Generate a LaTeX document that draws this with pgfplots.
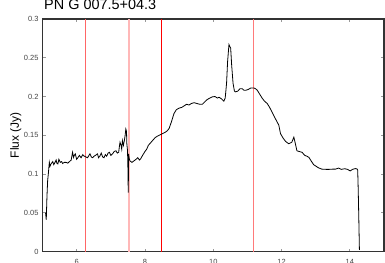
\documentclass[border=0pt]{standalone}
\usepackage{fontspec}
\setmainfont{Liberation Sans}
\usepackage{pgfplots}
\pgfplotsset{compat=1.18}
\definecolor{axgray}{HTML}{333333}
\definecolor{tickgray}{HTML}{999999}
\definecolor{lab}{HTML}{444444}
\begin{document}
\begin{tikzpicture}
\begin{axis}[
  at={(0,0)}, anchor=south west,
  scale only axis, width=341.5bp, height=232.5bp,
  xmin=5, xmax=15, ymin=0, ymax=0.3,
  xtick={6,8,10,12,14},
  ytick={0,0.05,0.1,0.15,0.2,0.25,0.3},
  yticklabels={0,0.05,0.1,0.15,0.2,0.25,0.3},
  tick align=inside,
  major tick length=3bp,
  tick style={tickgray, line width=0.8bp},
  axis line style={axgray, line width=1.5bp},
  /pgf/number format/assume math mode=true,
  ticklabel style={font=\fontsize{7.5}{8}\selectfont, text=lab},
  xticklabel style={yshift=-4.5bp},
  yticklabel style={xshift=-0.5bp},
  ylabel={Flux (Jy)},
  ylabel style={font=\fontsize{12}{12}\selectfont, at={(axis description cs:0,0.5)}, anchor=south, yshift=21bp, inner sep=0pt},
  title={PN G 007.5+04.3},
  title style={at={(axis description cs:0,1)}, anchor=base west, yshift=3.5bp, xshift=1.5bp, inner sep=0pt, font=\fontsize{14.5}{15}\selectfont},
  clip=true,
]
\addplot[red!60, line width=1.2bp] coordinates {(6.25,0) (6.25,0.3)};
\addplot[red!28, line width=2bp] coordinates {(7.52,0) (7.52,0.3)};
\addplot[red, line width=1.5bp] coordinates {(8.48,0) (8.48,0.3)};
\addplot[red!52, line width=1.2bp] coordinates {(11.18,0) (11.18,0.3)};
\addplot[black, line width=0.8bp] coordinates {
(5.09,0.050) (5.11,0.041) (5.13,0.070) (5.15,0.091) (5.17,0.100) (5.20,0.115) (5.22,0.110) (5.25,0.113) (5.30,0.116)
(5.33,0.112) (5.35,0.1136) (5.40,0.118) (5.42,0.114) (5.45,0.113) (5.48,0.119) (5.52,0.115) (5.56,0.116) (5.59,0.1136)
(5.64,0.115) (5.69,0.115) (5.74,0.114) (5.79,0.116) (5.84,0.118) (5.88,0.128) (5.91,0.1215) (5.93,0.124) (5.96,0.126)
(6.00,0.119) (6.03,0.1207) (6.08,0.124) (6.13,0.121) (6.18,0.125) (6.22,0.123) (6.26,0.1223) (6.32,0.121)
(6.36,0.124) (6.39,0.126) (6.43,0.122) (6.47,0.121) (6.51,0.123) (6.55,0.124) (6.61,0.126) (6.64,0.121)
(6.68,0.123) (6.72,0.127) (6.76,0.122) (6.80,0.121) (6.84,0.125) (6.88,0.123) (6.92,0.127) (6.96,0.128)
(7.00,0.124) (7.05,0.126) (7.10,0.129) (7.15,0.130) (7.19,0.127) (7.23,0.128) (7.25,0.135) (7.27,0.141)
(7.30,0.137) (7.32,0.132) (7.34,0.143) (7.37,0.137) (7.40,0.144) (7.42,0.150) (7.44,0.158) (7.46,0.155)
(7.47,0.139) (7.49,0.130) (7.505,0.100) (7.51,0.076) (7.515,0.095) (7.52,0.126) (7.54,0.120) (7.56,0.117)
(7.62,0.115) (7.68,0.117) (7.74,0.119) (7.79,0.121) (7.84,0.118) (7.88,0.120) (7.93,0.124) (8.00,0.129)
(8.05,0.132) (8.10,0.137) (8.16,0.140) (8.22,0.143) (8.30,0.147) (8.37,0.149) (8.42,0.150) (8.51,0.152)
(8.60,0.154) (8.66,0.156) (8.71,0.159) (8.78,0.168) (8.85,0.178) (8.92,0.183) (9.00,0.185) (9.08,0.186)
(9.15,0.188) (9.22,0.190) (9.29,0.189) (9.36,0.191) (9.44,0.192) (9.52,0.191) (9.60,0.190) (9.68,0.190)
(9.75,0.193) (9.82,0.196) (9.90,0.198) (9.97,0.1995) (10.05,0.200) (10.12,0.198) (10.17,0.199) (10.24,0.197)
(10.31,0.194) (10.35,0.198) (10.39,0.217) (10.42,0.245) (10.46,0.267) (10.49,0.264) (10.51,0.2625)
(10.54,0.240) (10.58,0.217) (10.62,0.207) (10.65,0.206) (10.72,0.207) (10.78,0.210) (10.85,0.210)
(10.90,0.208) (10.95,0.208) (11.02,0.209) (11.10,0.211) (11.19,0.211) (11.24,0.210) (11.29,0.208)
(11.36,0.203) (11.43,0.198) (11.50,0.194) (11.58,0.191) (11.65,0.186) (11.72,0.180) (11.80,0.173)
(11.86,0.168) (11.92,0.163) (11.97,0.152) (12.05,0.146) (12.12,0.142) (12.21,0.139) (12.30,0.141)
(12.36,0.1475) (12.40,0.140) (12.45,0.130) (12.52,0.129) (12.60,0.128) (12.68,0.124) (12.74,0.123)
(12.80,0.1215) (12.88,0.116) (12.94,0.112) (12.99,0.1106) (13.08,0.108) (13.18,0.1063) (13.30,0.106)
(13.40,0.106) (13.50,0.1063) (13.58,0.1063) (13.67,0.1076) (13.75,0.106) (13.85,0.1068) (13.93,0.106)
(14.01,0.104) (14.08,0.106) (14.16,0.107) (14.21,0.1065) (14.23,0.105) (14.245,0.080) (14.26,0.048) (14.28,0.002)
};
\end{axis}
\pgfresetboundingbox
\path (-42.5bp,-11.5bp) rectangle (342.5bp,251.5bp);
\end{tikzpicture}
\end{document}
